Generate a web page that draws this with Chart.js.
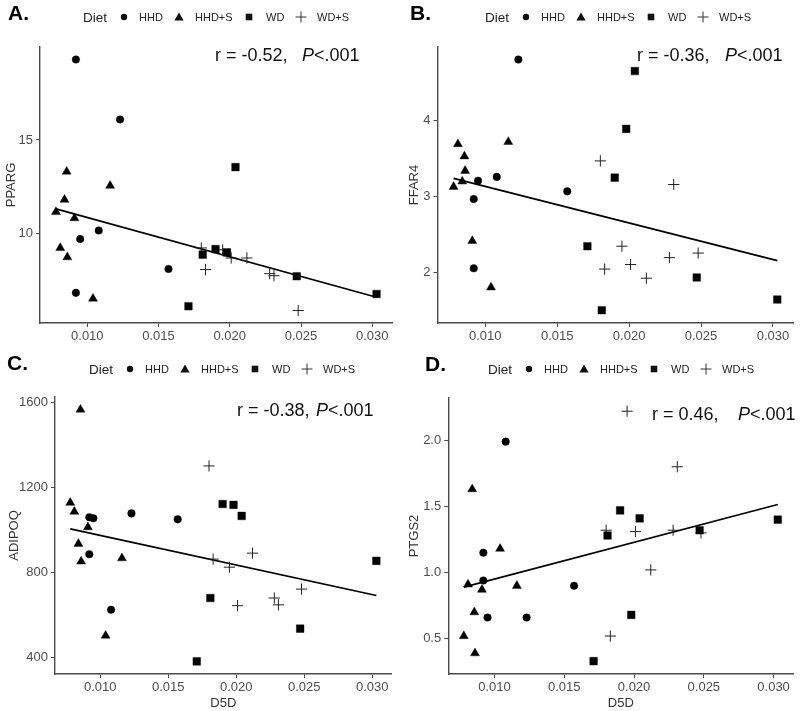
<!DOCTYPE html>
<html>
<head>
<meta charset="utf-8">
<script src="https://cdn.jsdelivr.net/npm/chart.js@4.4.1/dist/chart.umd.min.js"></script>
<style>
  html, body { margin: 0; padding: 0; background: #fff; }
  #wrap { position: relative; width: 800px; height: 711px; }
  #wrap canvas { position: absolute; left: 0; top: 0; }
</style>
</head>
<body>
<div id="wrap">
  <canvas id="chartA" width="800" height="711"></canvas>
  <canvas id="chartB" width="800" height="711"></canvas>
  <canvas id="chartC" width="800" height="711"></canvas>
  <canvas id="chartD" width="800" height="711"></canvas>
</div>
<script>
// Diet groups (legend order)
const dietGroups = ['HHD', 'HHD+S', 'WD', 'WD+S'];

// D5D per animal, same in every panel
const d5dHHD  = [0.0092, 0.0092, 0.0095, 0.0108, 0.0123, 0.0157];
const d5dHHDS = [0.0078, 0.0081, 0.0084, 0.00855, 0.0086, 0.0091, 0.0104, 0.0116];
const d5dWD   = [0.0171, 0.0181, 0.0190, 0.0198, 0.0204, 0.0247, 0.0303];
const d5dWDS  = [0.0180, 0.0183, 0.0195, 0.0201, 0.0212, 0.0228, 0.0231, 0.0248];

// gene expression values
const ppargHHD  = [19.32, 6.79, 9.68, 10.14, 16.1, 8.07];
const ppargHHDS = [11.13, 9.2, 11.79, 13.3, 8.7, 10.8, 6.48, 12.54];
const ppargWD   = [6.07, 8.84, 9.14, 8.96, 13.54, 7.68, 6.73];
const ppargWDS  = [9.2, 8.04, 9.1, 8.66, 8.66, 7.82, 7.71, 5.84];

const ffar4HHD  = [2.97, 2.06, 3.21, 3.26, 4.80, 3.07];
const ffar4HHDS = [3.13, 3.69, 3.20, 3.53, 3.34, 2.42, 1.81, 3.72];
const ffar4WD   = [2.35, 1.51, 3.25, 3.89, 4.65, 1.94, 1.65];
const ffar4WDS  = [3.47, 2.05, 2.35, 2.11, 1.93, 2.20, 3.16, 2.26];

const adipoqHHD  = [1060, 886, 1055, 625, 1078, 1050];
const adipoqHHDS = [1128, 1086, 935, 1566, 852, 1013, 503, 867];
const adipoqWD   = [382, 680, 1122, 1118, 1066, 536, 855];
const adipoqWDS  = [1301, 863, 825, 644, 891, 680, 648, 722];

const ptgs2HHD  = [1.15, 0.94, 0.66, 1.99, 0.66, 0.90];
const ptgs2HHDS = [0.52, 0.91, 1.63, 0.70, 0.39, 0.87, 1.18, 0.90];
const ptgs2WD   = [0.33, 1.28, 1.47, 0.68, 1.41, 1.32, 1.40];
const ptgs2WDS  = [1.32, 0.52, 2.22, 1.31, 1.02, 1.32, 1.80, 1.30];

// fitted regression line end points
const fitD5D    = [0.0078, 0.0303];
const ppargFit  = [11.30, 6.55];
const ffar4Fit  = [3.24, 2.16];
const adipoqFit = [1005, 692];
const ptgs2Fit  = [0.89, 1.515];

// tick labels
const xTicks      = [0.010, 0.015, 0.020, 0.025, 0.030];
const ppargTicks  = [10, 15];
const ffar4Ticks  = [2, 3, 4];
const adipoqTicks = [400, 800, 1200, 1600];
const ptgs2Ticks  = [0.5, 1.0, 1.5, 2.0];

const FONT = '"Liberation Sans", Arial, sans-serif';
const axisColor = '#4a4a4a';
const tickColor = '#4d4d4d';

function pairs(xs, ys) {
    return xs.map((x, i) => ({ x: x, y: ys[i] }));
}

function scatterSet(label, xs, ys, style, radius) {
    const isCross = style === 'cross';
    return {
        type: 'scatter',
        label: label,
        data: pairs(xs, ys),
        pointStyle: style,
        pointRadius: radius,
        pointBackgroundColor: '#000',
        pointBorderColor: isCross ? '#222' : '#000',
        pointBorderWidth: isCross ? 1 : 0.4
    };
}

// draws panel letter, Diet legend and the r / P note
const panelText = {
    id: 'panelText',
    afterDraw(chart, args, o) {
        const ctx = chart.ctx;
        ctx.save();
        ctx.fillStyle = '#000';
        ctx.textBaseline = 'alphabetic';
        ctx.textAlign = 'left';
        ctx.font = 'bold 21px ' + FONT;
        ctx.fillText(o.letter, o.letterX, o.letterY);

        // legend
        const lx = o.legendX, ly = o.legendY;
        ctx.textBaseline = 'middle';
        ctx.fillStyle = '#222';
        ctx.font = '13.5px ' + FONT;
        ctx.fillText('Diet', lx, ly + 1);
        ctx.font = '11px ' + FONT;
        const markX = [41, 96, 166, 218];
        const textX = [56, 112, 183, 234];
        dietGroups.forEach((g, i) => {
            const mx = lx + markX[i];
            ctx.fillStyle = '#111';
            ctx.strokeStyle = '#333';
            ctx.beginPath();
            if (i === 0) {
                ctx.arc(mx, ly, 3.2, 0, Math.PI * 2);
                ctx.fill();
            } else if (i === 1) {
                ctx.moveTo(mx, ly - 4.5);
                ctx.lineTo(mx + 4.6, ly + 3.5);
                ctx.lineTo(mx - 4.6, ly + 3.5);
                ctx.closePath();
                ctx.fill();
            } else if (i === 2) {
                ctx.rect(mx - 3.3, ly - 3.3, 6.6, 6.6);
                ctx.fill();
            } else {
                ctx.lineWidth = 1;
                ctx.moveTo(mx - 5.5, ly);
                ctx.lineTo(mx + 5.5, ly);
                ctx.moveTo(mx, ly - 5.5);
                ctx.lineTo(mx, ly + 5.5);
                ctx.stroke();
            }
            ctx.fillStyle = '#222';
            ctx.fillText(g, lx + textX[i], ly + 1);
        });

        // correlation note
        ctx.textBaseline = 'alphabetic';
        ctx.fillStyle = '#111';
        ctx.font = '18px ' + FONT;
        ctx.fillText(o.rText, o.rX, o.rY);
        ctx.font = 'italic 18px ' + FONT;
        ctx.fillText('P', o.pX, o.rY);
        const pw = ctx.measureText('P').width;
        ctx.font = '18px ' + FONT;
        ctx.fillText('<.001', o.pX + pw, o.rY);
        ctx.restore();
    }
};

function buildPanel(id, p) {
    const ctx = document.getElementById(id);
    new Chart(ctx, {
        type: 'scatter',
        data: {
            datasets: [
                scatterSet('HHD', d5dHHD, p.hhd, 'circle', 3.8),
                scatterSet('HHD+S', d5dHHDS, p.hhds, 'triangle', 5.2),
                scatterSet('WD', d5dWD, p.wd, 'rect', 5.4),
                scatterSet('WD+S', d5dWDS, p.wds, 'cross', 5.6),
                {
                    type: 'line',
                    label: 'fit',
                    data: pairs(fitD5D, p.fit),
                    borderColor: '#000',
                    borderWidth: 1.7,
                    pointRadius: 0,
                    fill: false,
                    tension: 0
                }
            ]
        },
        options: {
            responsive: false,
            animation: false,
            events: [],
            layout: {
                padding: {
                    left: p.panelX,
                    top: p.area.top,
                    right: 800 - p.area.right,
                    bottom: 711 - p.area.bottom - p.xH
                }
            },
            plugins: {
                legend: { display: false },
                tooltip: { enabled: false },
                panelText: p.text
            },
            scales: {
                x: {
                    type: 'linear',
                    min: 0.00668,
                    max: 0.03142,
                    afterBuildTicks: s => { s.ticks = xTicks.map(v => ({ value: v })); },
                    afterFit: s => { s.height = p.xH; },
                    ticks: {
                        callback: v => v.toFixed(3),
                        font: { family: FONT, size: 13 },
                        color: tickColor,
                        padding: 2,
                        maxRotation: 0,
                        autoSkip: false
                    },
                    grid: { drawOnChartArea: false, drawTicks: true, tickLength: 4, tickColor: axisColor },
                    border: { color: axisColor, width: 1.4 },
                    title: {
                        display: p.showX,
                        text: 'D5D',
                        font: { family: FONT, size: 13 },
                        color: '#333',
                        padding: { top: 0, bottom: 0 }
                    }
                },
                y: {
                    type: 'linear',
                    min: p.yMin,
                    max: p.yMax,
                    afterBuildTicks: s => { s.ticks = p.yTicks.map(v => ({ value: v })); },
                    afterFit: s => { s.width = p.area.left - p.panelX; },
                    ticks: {
                        callback: p.yFmt,
                        font: { family: FONT, size: 13 },
                        color: tickColor,
                        padding: 3,
                        autoSkip: false
                    },
                    grid: { drawOnChartArea: false, drawTicks: true, tickLength: 4, tickColor: axisColor },
                    border: { color: axisColor, width: 1.4 },
                    title: {
                        display: true,
                        text: p.yLabel,
                        font: { family: FONT, size: 13 },
                        color: '#333',
                        padding: { top: p.titleX - p.panelX - 7.8, bottom: 0 }
                    }
                }
            }
        },
        plugins: [panelText]
    });
}

buildPanel('chartA', {
    panelX: 0, area: { left: 40, right: 392.5, top: 47, bottom: 323 }, xH: 20, showX: false,
    yLabel: 'PPARG', yMin: 5.17, yMax: 19.99, yTicks: ppargTicks, yFmt: v => String(v), titleX: 11,
    hhd: ppargHHD, hhds: ppargHHDS, wd: ppargWD, wds: ppargWDS, fit: ppargFit,
    text: { letter: 'A.', letterX: 8, letterY: 20, legendX: 83, legendY: 17,
            rText: 'r = -0.52,', rX: 215, pX: 302, rY: 61 }
});

buildPanel('chartB', {
    panelX: 400, area: { left: 437.5, right: 796.5, top: 47, bottom: 323 }, xH: 20, showX: false,
    yLabel: 'FFAR4', yMin: 1.342, yMax: 4.965, yTicks: ffar4Ticks, yFmt: v => String(v), titleX: 414.5,
    hhd: ffar4HHD, hhds: ffar4HHDS, wd: ffar4WD, wds: ffar4WDS, fit: ffar4Fit,
    text: { letter: 'B.', letterX: 410, letterY: 20, legendX: 485, legendY: 17,
            rText: 'r = -0.36,', rX: 637, pX: 725, rY: 61 }
});

buildPanel('chartC', {
    panelX: 0, area: { left: 55, right: 391.6, top: 397, bottom: 674 }, xH: 37, showX: true,
    yLabel: 'ADIPOQ', yMin: 322.8, yMax: 1625.2, yTicks: adipoqTicks, yFmt: v => String(v), titleX: 14.5,
    hhd: adipoqHHD, hhds: adipoqHHDS, wd: adipoqWD, wds: adipoqWDS, fit: adipoqFit,
    text: { letter: 'C.', letterX: 7, letterY: 370, legendX: 89, legendY: 369,
            rText: 'r = -0.38,', rX: 237, pX: 316, rY: 416 }
});

buildPanel('chartD', {
    panelX: 400, area: { left: 448.2, right: 796.7, top: 398, bottom: 674 }, xH: 37, showX: true,
    yLabel: 'PTGS2', yMin: 0.233, yMax: 2.32, yTicks: ptgs2Ticks, yFmt: v => v.toFixed(1), titleX: 414.5,
    hhd: ptgs2HHD, hhds: ptgs2HHDS, wd: ptgs2WD, wds: ptgs2WDS, fit: ptgs2Fit,
    text: { letter: 'D.', letterX: 425, letterY: 371, legendX: 488, legendY: 369,
            rText: 'r = 0.46,', rX: 652, pX: 738, rY: 420 }
});
</script>
</body>
</html>
